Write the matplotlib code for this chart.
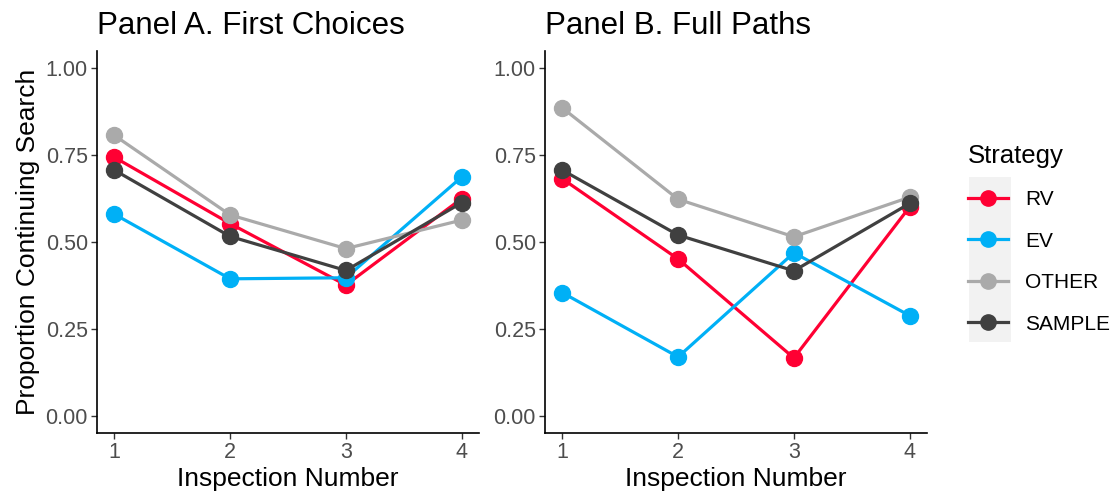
import matplotlib
matplotlib.use('agg')
import matplotlib.pyplot as plt
from matplotlib.lines import Line2D
from matplotlib.patches import Rectangle

plt.rcParams['font.family'] = ['Liberation Sans', 'DejaVu Sans']

inspection = [1, 2, 3, 4]
strategies = ['RV', 'EV', 'OTHER', 'SAMPLE']
colors = ['#FF0033', '#00B0F6', '#AAAAAA', '#404040']

first_rv = [0.744, 0.553, 0.376, 0.625]
first_ev = [0.580, 0.394, 0.397, 0.687]
first_other = [0.807, 0.578, 0.481, 0.563]
first_sample = [0.707, 0.516, 0.418, 0.613]

full_rv = [0.682, 0.451, 0.166, 0.601]
full_ev = [0.354, 0.169, 0.469, 0.288]
full_other = [0.886, 0.623, 0.515, 0.629]
full_sample = [0.707, 0.520, 0.417, 0.611]

panels = [
    ('Panel A. First Choices', [first_rv, first_ev, first_other, first_sample]),
    ('Panel B. Full Paths', [full_rv, full_ev, full_other, full_sample]),
]

fig = plt.figure(figsize=(11.13, 4.99), dpi=100)
lefts = [97 / 1113, 545 / 1113]
for i, (title, series) in enumerate(panels):
    ax = fig.add_axes([lefts[i], 1 - 433 / 499, 382 / 1113, 382 / 499])
    for vals, col in zip(series, colors):
        ax.plot(inspection, vals, color=col, lw=2.3, marker='o', ms=11.5,
                solid_capstyle='butt')
    ax.set_xlim(0.85, 4.15)
    ax.set_ylim(-0.05, 1.05)
    ax.set_xticks(inspection)
    ax.set_yticks([0, 0.25, 0.5, 0.75, 1.0])
    ax.set_yticklabels(['0.00', '0.25', '0.50', '0.75', '1.00'])
    for s in ['top', 'right']:
        ax.spines[s].set_visible(False)
    for s in ['left', 'bottom']:
        ax.spines[s].set_linewidth(1.2)
    ax.tick_params(labelsize=15.5, labelcolor='#4D4D4D', color='#333333',
                   length=4, width=1, pad=2.5)
    ax.set_xlabel('Inspection Number', fontsize=19, labelpad=3)
    if i == 0:
        ax.set_ylabel('Proportion Continuing Search', fontsize=19, labelpad=4)
    ax.set_title(title, fontsize=22.5, loc='left', pad=12)

# legend
fig.add_artist(Rectangle((969 / 1113, 1 - 342 / 499), 42 / 1113, 165 / 499,
                         transform=fig.transFigure, facecolor='#F2F2F2',
                         edgecolor='none', zorder=0))
handles = [Line2D([], [], color=c, lw=2.3, marker='o', ms=11) for c in colors]
leg = fig.legend(handles, strategies, loc='upper left',
                 bbox_to_anchor=(968 / 1113, 1 - 144 / 499),
                 frameon=False, fontsize=15, title='Strategy',
                 title_fontsize=18.5, handlelength=1.9, labelspacing=1.08,
                 handletextpad=0.85, borderaxespad=0, borderpad=0)
leg._legend_box.align = 'left'
leg._legend_box.sep = 16

plt.savefig('out.png', dpi=100)
